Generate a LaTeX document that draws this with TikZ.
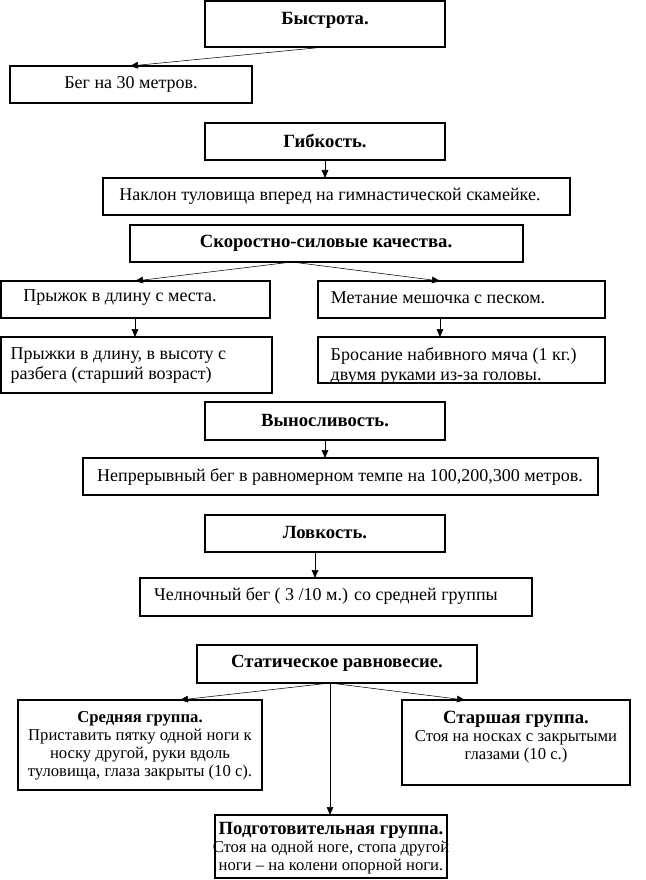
\documentclass[tikz,border=0pt]{standalone}
\usepackage{fontspec}
\setmainfont{Liberation Serif}
\usetikzlibrary{arrows.meta}
\begin{document}
\begin{tikzpicture}[x=0.75pt,y=-0.75pt,
 ar/.style={-{Triangle[length=6pt,width=5pt]}},
 t/.style={font=\fontsize{13.5}{15}\selectfont},
 tb/.style={font=\fontsize{14}{15}\selectfont\bfseries},
 sm/.style={align=center,anchor=north,font=\fontsize{12.5}{13.5}\selectfont}]
\useasboundingbox (0,0) rectangle (645,880);
\draw[thick] (205,1) rectangle (445,47); \node[tb] (b1) at (325,20) {Быстрота.};
\draw[thick] (10,66) rectangle (252,103); \node[t] (b2) at (131,84) {Бег на 30 метров.};
\draw[thick] (205,123) rectangle (445,160); \node[tb] (b3) at (325,141) {Гибкость.};
\draw[thick] (103,178) rectangle (570,215); \node[t] (b4) at (330,196) {Наклон туловища вперед на гимнастической скамейке.};
\draw[thick] (130,225) rectangle (523,262); \node[tb] (b5) at (326,243) {Скоростно-силовые качества.};
\draw[thick] (1,281) rectangle (270,318); \node[t] (b6) at (120,298) {Прыжок в длину с места.};
\draw[thick] (318,281) rectangle (605,318); \node[t] (b7) at (438,298) {Метание мешочка с песком.};
\draw[thick] (1,337) rectangle (272,393); \node[t,align=left,anchor=north west] (b8) at (6,343) {Прыжки в длину, в высоту с\\разбега (старший возраст)};
\draw[thick] (318,337) rectangle (605,383);
\begin{scope}\clip (318,337) rectangle (605,381);
\node[t,align=left,anchor=north west] (b9) at (326,343) {Бросание набивного мяча (1 кг.)\\двумя руками из-за головы.};\end{scope}
\draw[thick] (205,402) rectangle (445,440); \node[tb] (b10) at (325,421) {Выносливость.};
\draw[thick] (83,458) rectangle (598,495); \node[t] (b11) at (340,477) {Непрерывный бег в равномерном темпе на 100,200,300 метров.};
\draw[thick] (205,515) rectangle (445,552); \node[tb] (b12) at (325,533) {Ловкость.};
\draw[thick] (140,578) rectangle (532,616); \node[t] (b13) at (326,596) {Челночный бег ( 3 /10 м.) со средней группы};
\draw[thick] (197,645) rectangle (477,683); \node[tb] (b14) at (337,663) {Статическое равновесие.};
\draw[thick] (18,700) rectangle (262,790); \node[sm] (b15) at (140,707) {\textbf{Средняя группа.}\\Приставить пятку одной ноги к\\носку другой, руки вдоль\\туловища, глаза закрыты (10 с).};
\draw[thick] (402,700) rectangle (630,785); \node[sm] (b16) at (516,706) {{\fontsize{14}{15}\selectfont\textbf{Старшая группа.}}\\Стоя на носках с закрытыми\\глазами (10 с.)};
\draw[thick] (215,815) rectangle (447,878); \node[sm] (b17) at (331,818) {{\fontsize{14}{15}\selectfont\textbf{Подготовительная группа.}}\\Стоя на одной ноге, стопа другой\\ноги – на колени опорной ноги.};
\coordinate (a1) at (325,47); \coordinate (a2) at (130,66);
\draw[ar] (a1) -- (a2);
\coordinate (c1) at (325,160); \coordinate (c2) at (325,178); \draw[ar] (c1)--(c2);
\coordinate (d0) at (292,262); \coordinate (d1) at (135,281); \coordinate (d2) at (440,281);
\draw[ar] (d0)--(d1); \draw[ar] (d0)--(d2);
\coordinate (e1) at (135,318); \coordinate (e2) at (135,337); \draw[ar] (e1)--(e2);
\coordinate (f1) at (440,318); \coordinate (f2) at (440,337); \draw[ar] (f1)--(f2);
\coordinate (g1) at (325,440); \coordinate (g2) at (325,458); \draw[ar] (g1)--(g2);
\coordinate (h1) at (315,552); \coordinate (h2) at (315,578); \draw[ar] (h1)--(h2);
\coordinate (s0) at (330,683); \coordinate (s1) at (180,700); \coordinate (s2) at (465,700); \coordinate (s3) at (330,815);
\draw[ar] (s0)--(s1); \draw[ar] (s0)--(s2); \draw[ar] (s0)--(s3);
\end{tikzpicture}
\end{document}
